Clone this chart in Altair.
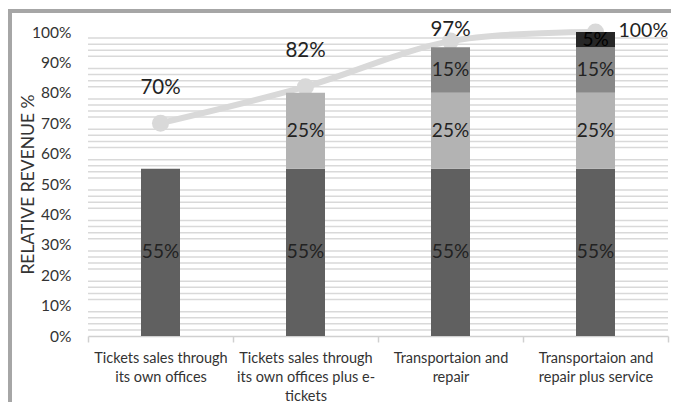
import altair as alt
import pandas as pd

# ---- data ----
categories = [
    "Tickets sales through|its own offices",
    "Tickets sales through|its own offices plus e-|tickets",
    "Transportaion and|repair",
    "Transportaion and|repair plus service",
]
segments = ["Own offices", "E-tickets", "Repair", "Service"]
own_offices = [55, 55, 55, 55]
e_tickets = [0, 25, 25, 25]
repair = [0, 0, 15, 15]
service = [0, 0, 0, 5]
cumulative = [70, 82, 97, 100]
y_ticks = [0, 10, 20, 30, 40, 50, 60, 70, 80, 90, 100]

seg_colors = ["#606060", "#b3b3b3", "#888888", "#262626"]

rows = []
for i, c in enumerate(categories):
    for k, (s, vals) in enumerate(zip(segments, [own_offices, e_tickets, repair, service])):
        rows.append({"cat": c, "seg": s, "order": k, "value": vals[i]})
bars_df = pd.DataFrame(rows)
line_df = pd.DataFrame({"cat": categories, "cum": cumulative})
grid_df = pd.DataFrame({"g": [v for v in range(2, 101, 2) if v % 10 != 0]})

W, H = 580, 304
FONT = "Lato"

x_enc = alt.X(
    "cat:N",
    sort=categories,
    scale=alt.Scale(paddingInner=0, paddingOuter=0),
    axis=alt.Axis(
        title=None,
        labelExpr="split(datum.label, '|')",
        labelAngle=0,
        labelFont=FONT,
        labelFontSize=14.5,
        labelColor="#333333",
        labelPadding=9,
        labelLineHeight=19,
        tickBand="extent",
        tickColor="#d0d0d0",
        tickSize=6,
        tickWidth=1.5,
        domainColor="#d0d0d0",
        domainWidth=1.5,
    ),
)
y_scale = alt.Scale(domain=[0, 100], nice=False)
y_axis = alt.Axis(
    values=y_ticks,
    labelExpr="datum.value + '%'",
    grid=False,
    ticks=False,
    domain=False,
    labelFont=FONT,
    labelFontSize=15.5,
    labelColor="#333333",
    labelPadding=17,
    title="RELATIVE REVENUE %",
    titleFont=FONT,
    titleFontSize=17.5,
    titleFontWeight="normal",
    titleColor="#333333",
    titleAngle=-90,
    titleX=-60,
    titleY=H / 2,
    titleBaseline="middle",
    titleAlign="center",
)

# decorations (outer frame)
frame_top = alt.Chart(pd.DataFrame({"a": [0]})).mark_rule(color="#a6a6a6", strokeWidth=4).encode(
    x=alt.value(-80), x2=alt.value(W + 10), y=alt.value(-21)
)
frame_left = alt.Chart(pd.DataFrame({"a": [0]})).mark_rule(color="#a6a6a6", strokeWidth=4).encode(
    x=alt.value(-78), y=alt.value(-23), y2=alt.value(H + 80)
)

grid = alt.Chart(grid_df).mark_rule(color="#d9d9d9", strokeWidth=1.5).encode(
    y=alt.Y("g:Q", scale=y_scale, axis=y_axis),
    x=alt.value(0),
    x2=alt.value(W),
)

line = alt.Chart(line_df).mark_line(color="#d9d9d9", strokeWidth=6, interpolate="cardinal").encode(
    x=x_enc, y=alt.Y("cum:Q", scale=y_scale, axis=y_axis)
)
points = alt.Chart(line_df).mark_circle(color="#d9d9d9", opacity=1, size=290).encode(
    x=x_enc, y=alt.Y("cum:Q", scale=y_scale, axis=y_axis)
)

bars = alt.Chart(bars_df).transform_filter("datum.value > 0").mark_bar(size=39).encode(
    x=x_enc,
    y=alt.Y("value:Q", stack="zero", scale=y_scale, axis=y_axis),
    color=alt.Color("seg:N", scale=alt.Scale(domain=segments, range=seg_colors), legend=None),
    order=alt.Order("order:Q"),
)

bar_labels = (
    alt.Chart(bars_df)
    .transform_stack(stack="value", groupby=["cat"], as_=["y0", "y1"], sort=[alt.SortField("order")])
    .transform_filter("datum.value > 0")
    .transform_calculate(mid="(datum.y0 + datum.y1) / 2", lbl="datum.value + '%'")
    .mark_text(font=FONT, fontSize=19, baseline="middle")
    .encode(
        x=x_enc,
        y=alt.Y("mid:Q", scale=y_scale, axis=y_axis),
        text="lbl:N",
        color=alt.condition(alt.datum.seg == segments[3], alt.value("#000000"), alt.value("#222222")),
    )
)

def point_label(idx, dx, dy, align="center", size=20.5):
    return (
        alt.Chart(line_df)
        .transform_filter(alt.datum.cat == categories[idx])
        .transform_calculate(lbl="datum.cum + '%'")
        .mark_text(font=FONT, fontSize=size, color="#222222", baseline="middle", align=align, dx=dx, dy=dy)
        .encode(x=x_enc, y=alt.Y("cum:Q", scale=y_scale, axis=y_axis), text="lbl:N")
    )

labels = [
    point_label(0, 0, -35),
    point_label(1, 0, -36),
    point_label(2, 0, -11),
    point_label(3, 23, -1, align="left", size=19.5),
]

chart = (
    alt.layer(frame_top, frame_left, grid, line, points, bars, bar_labels, *labels)
    .properties(
        width=W,
        height=H,
        padding={"left": 80, "top": 24, "right": 3, "bottom": 66},
        autosize=alt.AutoSizeParams(type="none"),
        background="white",
    )
    .configure_view(stroke=None)
)

chart.save("out.html", embed_options={"renderer": "svg", "actions": False})
